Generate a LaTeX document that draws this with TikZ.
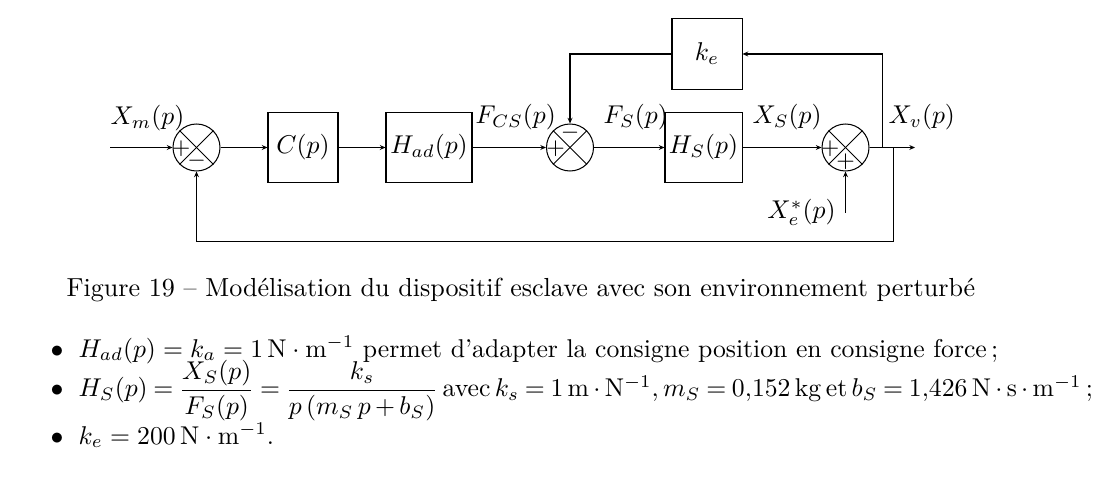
\documentclass[tikz,border=0pt]{standalone}
\usetikzlibrary{arrows.meta}
\usepackage{amsmath}
\def\u{0.389pt}
\tikzset{
  blockbox/.style={draw, thin, minimum width={70*\u}, minimum height={70*\u}, inner sep=0pt},
  summer/.style={draw, thin, circle, minimum size={47*\u}, inner sep=0pt},
  sig/.style={inner sep=0pt, font=\small},
  lbl/.style={inner sep=0pt},
  txt/.style={inner sep=0pt, anchor=base west},
  arr/.style={thin, -{Stealth[length=2.2pt,width=1.9pt]}},
  cross/.style={thin}
}
\begin{document}
\begin{tikzpicture}[x=0.389pt, y=-0.389pt]
\useasboundingbox (0,0) rectangle (1111,477);
% blocks
\node[summer] (S1) at (196.5,147.5) {};
\node[blockbox] (C) at (303,147.5) {$C(p)$};
\node[blockbox, minimum width={86*\u}] (Had) at (429,147.5) {$H_{ad}(p)$};
\node[summer] (S2) at (570,147.5) {};
\node[blockbox, minimum width={77*\u}] (HS) at (703.5,147.5) {$H_S(p)$};
\node[summer] (S3) at (845.5,147.5) {};
\node[blockbox, minimum height={71*\u}] (ke) at (707,54) {$k_e$};
% crosses
\foreach \s in {S1,S2,S3}{
  \draw[cross] (\s.45) -- (\s.225);
  \draw[cross] (\s.135) -- (\s.315);
}
% signs
\node[sig] (p1) at (181,149) {$+$};
\node[sig] (m1) at (196.5,160.5) {$-$};
\node[sig] (p2) at (555.5,149) {$+$};
\node[sig] (m2) at (570,132.5) {$-$};
\node[sig] (p3) at (830,149) {$+$};
\node[sig] (p4) at (845.5,161.5) {$+$};
% coordinates
\coordinate (in) at (110,147.5);
\coordinate (out) at (915,147.5);
\coordinate (b1) at (882,147.5);
\coordinate (b2) at (893,147.5);
\coordinate (bot) at (893,241.7);
\coordinate (xe) at (845.5,213);
% connectors
\draw[arr] (in) -- (S1);
\draw[arr] (S1) -- (C);
\draw[arr] (C) -- (Had);
\draw[arr] (Had) -- (S2);
\draw[arr] (S2) -- (HS);
\draw[arr] (HS) -- (S3);
\draw[arr] (S3) -- (out);
\draw[arr] (b1) |- (ke);
\draw[arr] (ke) -| (S2);
\draw[arr] (b2) -- (bot) -| (S1);
\draw[arr] (xe) -- (S3);
% signal labels
\node[lbl, anchor=base west] (lXm) at (110,125) {$X_m(p)$};
\node[lbl, anchor=base west] (lFcs) at (475,124) {$F_{CS}(p)$};
\node[lbl, anchor=base west] (lFs) at (603,124) {$F_S(p)$};
\node[lbl, anchor=base west] (lXs) at (752,124) {$X_S(p)$};
\node[lbl, anchor=base west] (lXv) at (888,124) {$X_v(p)$};
\node[lbl, anchor=base east] (lXe) at (836,219) {$X_e^*(p)$};
% caption
\node[txt] (cap) at (66,296.7) {\fontsize{10.15}{12}\selectfont Figure 19 -- Modélisation du dispositif esclave avec son environnement perturbé};
% bullets
\node[txt] (b1d) at (50,357) {$\bullet$};
\node[txt] (l1) at (78,357) {$H_{ad}(p)=k_a=1\,\mathrm{N}\cdot\mathrm{m}^{-1}$ permet d'adapter la consigne position en consigne force\,;};
\node[txt] (b2d) at (50,397) {$\bullet$};
\node[txt] (l2) at (78,397) {\thickmuskip=4mu plus 2mu\medmuskip=3mu plus 2mu$H_S(p)=\dfrac{X_S(p)}{F_S(p)}=\dfrac{k_s}{p\,(m_S\,p+b_S)}\,\text{avec}\,k_s=1\,\mathrm{m}\cdot\mathrm{N}^{-1},m_S=0{,}152\,\mathrm{kg}\,\text{et}\,b_S=1{,}426\,\mathrm{N}\cdot\mathrm{s}\cdot\mathrm{m}^{-1}\,;$};
\node[txt] (b3d) at (50,444) {$\bullet$};
\node[txt] (l3) at (78,444) {$k_e=200\,\mathrm{N}\cdot\mathrm{m}^{-1}$.};
\end{tikzpicture}
\end{document}
